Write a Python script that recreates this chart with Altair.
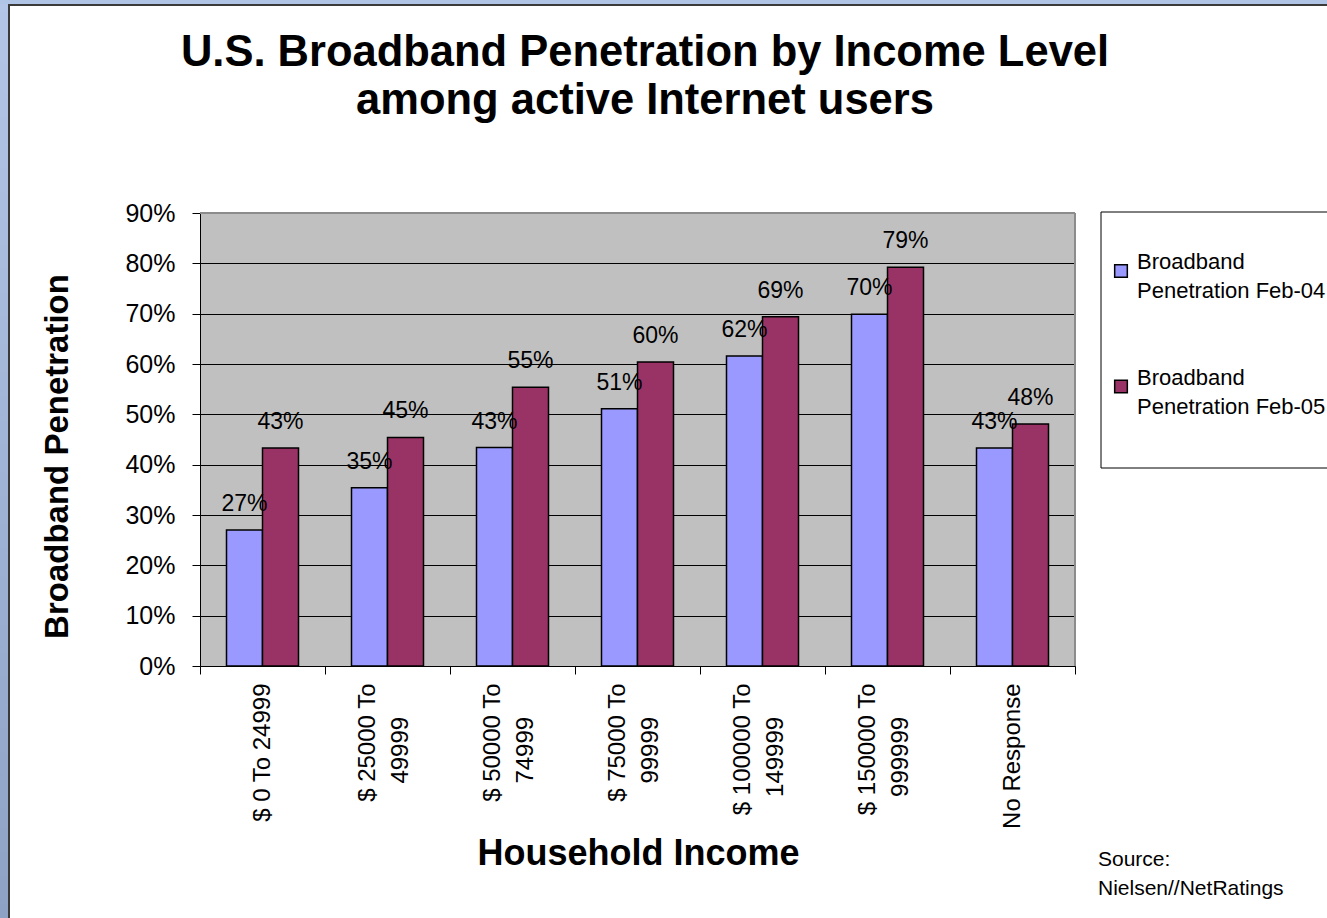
import altair as alt
import pandas as pd

CATEGORIES = ["$ 0 To 24999", "$ 25000 To 49999", "$ 50000 To 74999", "$ 75000 To 99999",
              "$ 100000 To 149999", "$ 150000 To 999999", "No Response"]
SERIES = ["Broadband Penetration Feb-04", "Broadband Penetration Feb-05"]
FEB04 = [27.0, 35.4, 43.4, 51.1, 61.6, 69.9, 43.3]
FEB05 = [43.3, 45.4, 55.4, 60.4, 69.4, 79.2, 48.1]
COLORS = ["#9999FF", "#993366"]
Y_TICKS = [0, 10, 20, 30, 40, 50, 60, 70, 80, 90]
TITLE_LINES = ["U.S. Broadband Penetration by Income Level", "among active Internet users"]
SOURCE_LINES = ["Source:", "Nielsen//NetRatings"]
FONT = "Liberation Sans"
# trailing pad keeps the second line of a wrapped label centred under the first
PAD = "\u00a0" * 5 + "\u200b"

rows = []
for s, vals in zip(SERIES, [FEB04, FEB05]):
    for c, v in zip(CATEGORIES, vals):
        rows.append({"category": c, "series": s, "value": v, "label": f"{v:.0f}%"})
df = pd.DataFrame(rows)
legend_df = pd.DataFrame({"series": SERIES})
dummy = alt.Data(values=[{"k": 0}])

color = alt.Color("series:N", scale=alt.Scale(domain=SERIES, range=COLORS), legend=None)
xoff = alt.XOffset("series:N", sort=SERIES,
                   scale=alt.Scale(paddingInner=0, paddingOuter=0.736))

x_label_expr = (
    "length(datum.label) > 12 ? "
    "[slice(datum.label, 0, indexof(datum.label, ' To ') + 3), "
    "slice(datum.label, indexof(datum.label, ' To ') + 4) + '" + PAD + "'] : datum.label"
)

x_enc = alt.X(
    "category:N", sort=CATEGORIES,
    scale=alt.Scale(paddingInner=0, paddingOuter=0),
    axis=alt.Axis(
        title="Household Income", labelAngle=270, labelExpr=x_label_expr,
        labelOffset={"condition": {"test": "length(datum.label) > 12", "value": -20}, "value": 0},
        tickBand="extent", tickSize=8, tickColor="black", domainColor="black",
        labelFontSize=24, labelPadding=9, labelLineHeight=33, labelColor="black",
        labelOverlap=False, titleFontSize=36, titleFontWeight="bold", titleColor="black",
        titleX=438, titleY=187, titleAlign="center", titleBaseline="middle", grid=False,
    ),
)
y_scale = alt.Scale(domain=[0, 90])

# slide frame decoration
left_strip = alt.Chart(dummy).mark_rect(
    fill={"gradient": "linear", "x1": 0, "x2": 0, "y1": 0, "y2": 1,
          "stops": [{"offset": 0, "color": "#b3c6e7"}, {"offset": 1, "color": "#8ea2c6"}]}
).encode(x=alt.value(-200), x2=alt.value(-192), y=alt.value(-213), y2=alt.value(705))
top_strip = alt.Chart(dummy).mark_rect(fill="#b0c4e6").encode(
    x=alt.value(-200), x2=alt.value(1127), y=alt.value(-213), y2=alt.value(-209))
frame_v = alt.Chart(dummy).mark_rule(color="#3a3a3a", strokeWidth=2).encode(
    x=alt.value(-191), y=alt.value(-209), y2=alt.value(705))
frame_h = alt.Chart(dummy).mark_rule(color="#3a3a3a", strokeWidth=2).encode(
    x=alt.value(-192), x2=alt.value(1127), y=alt.value(-208))

title = alt.Chart(dummy).mark_text(
    align="center", baseline="alphabetic", lineHeight=48, fontSize=43.5, fontWeight="bold",
    font=FONT, color="black", text=TITLE_LINES,
).encode(x=alt.value(445), y=alt.value(-147))

bars = alt.Chart(df).mark_bar(stroke="black", strokeWidth=1.5).encode(
    x=x_enc,
    xOffset=xoff,
    y=alt.Y("value:Q", scale=y_scale, axis=alt.Axis(
        values=Y_TICKS, labelExpr="datum.value + '%'", title="Broadband Penetration",
        grid=True, gridColor="black", gridWidth=1, domainColor="black", tickColor="black",
        tickSize=8, labelFontSize=25, labelPadding=17, labelColor="black", labelOverlap=False,
        titleFontSize=33, titleFontWeight="bold", titleColor="black",
        titleX=-143, titleY=243, titleAngle=270, titleAlign="center", titleBaseline="middle",
    )),
    color=color,
)

labels = alt.Chart(df).mark_text(
    baseline="alphabetic", dy=-19, fontSize=23, font=FONT, color="black"
).encode(
    x=x_enc, xOffset=xoff,
    y=alt.Y("value:Q", scale=y_scale, axis=None),
    text="label:N",
)

border_top = alt.Chart(dummy).mark_rule(color="#8c8c8c", strokeWidth=2).encode(
    x=alt.value(0), x2=alt.value("width"), y=alt.value(0))
border_right = alt.Chart(dummy).mark_rule(color="#8c8c8c", strokeWidth=2).encode(
    x=alt.value("width"), y=alt.value(0), y2=alt.value("height"))

legend_box = alt.Chart(dummy).mark_rect(fill="white", stroke="black", strokeWidth=1).encode(
    x=alt.value(901), x2=alt.value(1145), y=alt.value(-1), y2=alt.value(255))
leg_y = alt.Y("series:N", sort=SERIES, scale=alt.Scale(range=[58, 173.5], padding=0), axis=None)
legend_sym = alt.Chart(legend_df).mark_square(
    size=160, stroke="black", strokeWidth=1.5, opacity=1
).encode(x=alt.value(921), y=leg_y, color=color)
legend_txt = alt.Chart(legend_df).transform_calculate(
    label="replace(datum.series, 'Broadband ', 'Broadband|')"
).mark_text(
    align="left", baseline="middle", lineBreak="|", lineHeight=29, dy=-9,
    fontSize=22, font=FONT, color="black"
).encode(x=alt.value(937), y=leg_y, text="label:N")

source = alt.Chart(dummy).mark_text(
    align="left", baseline="middle", lineHeight=28.5, fontSize=21, font=FONT, color="black",
    text=SOURCE_LINES,
).encode(x=alt.value(898), y=alt.value(647))

chart = alt.layer(
    left_strip, top_strip, frame_v, frame_h, title,
    bars, labels, border_top, border_right,
    legend_box, legend_sym, legend_txt, source,
).resolve_scale(y="independent").properties(
    width=875, height=453,
    autosize=alt.AutoSizeParams(type="none"),
    padding={"left": 200, "top": 213, "right": 252, "bottom": 252},
    background="white",
).configure_view(
    fill="#C0C0C0", strokeWidth=0
).configure_axis(
    labelFont=FONT, titleFont=FONT
)

chart.save("out.html", embed_options={"renderer": "svg", "actions": False})
